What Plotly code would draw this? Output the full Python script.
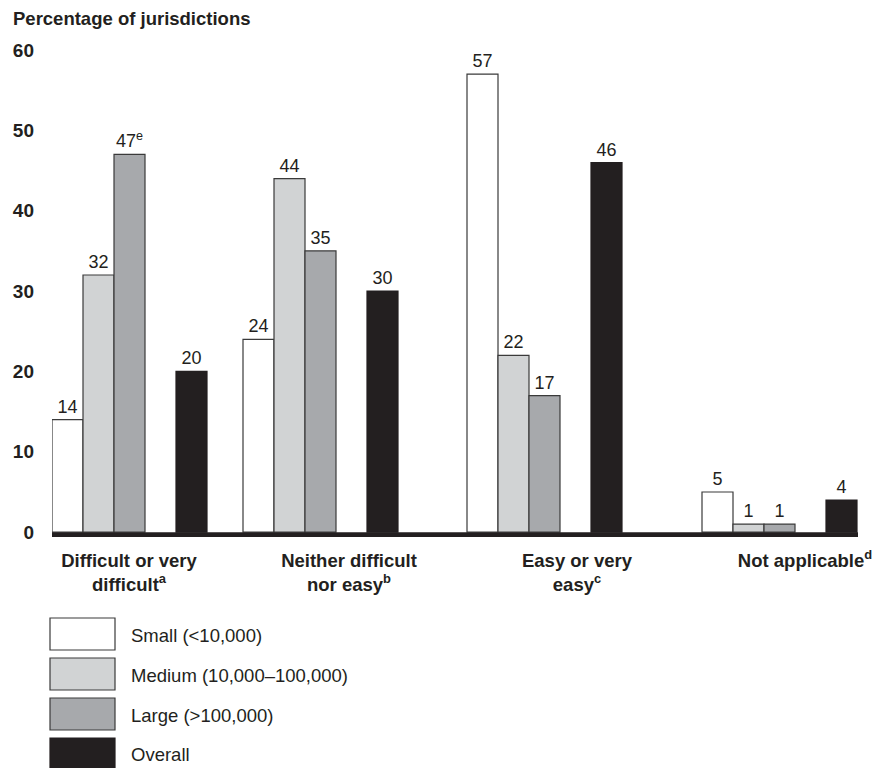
import plotly.graph_objects as go

# ---------------- data ----------------
category_labels = [
    "Difficult or very<br>difficult<sup>a</sup>",
    "Neither difficult<br>nor easy<sup>b</sup>",
    "Easy or very<br>easy<sup>c</sup>",
    "Not applicable<sup>d</sup>",
]
series_names = ["Small (<10,000)", "Medium (10,000–100,000)", "Large (>100,000)", "Overall"]
small = [14, 24, 57, 5]
medium = [32, 44, 22, 1]
large = [47, 35, 17, 1]
overall = [20, 30, 46, 4]
large_notes = ["e", "", "", ""]
y_ticks = [0, 10, 20, 30, 40, 50, 60]

# ---------------- layout / style ----------------
# page body has an 8px margin, so the figure is drawn 8px smaller and offset
OFF = 8
W, H = 886 - OFF, 768 - OFF
PL, PR, PT, PB = 52, 858, 50, 537          # plot area in page pixels
group_centers = [129.5, 320.5, 544.5, 779.5]  # x-axis units (== page pixels)
label_centers = [129, 349, 577, 805]
slot_offsets = [-77.5, -46.5, -15.5, 46.5]
bar_width = 31
fills = ["#ffffff", "#d1d3d4", "#a7a9ac", "#231f20"]
outline = "#3a3a3a"
ink = "#231f20"
FONT = "Liberation Sans, Arial, Helvetica, sans-serif"

values = [small, medium, large, overall]

def texts(vals, notes=None):
    out = []
    for i, v in enumerate(vals):
        t = str(v)
        if notes and notes[i]:
            t += "<sup>" + notes[i] + "</sup>"
        out.append(t)
    return out

fig = go.Figure()
for k, (name, vals) in enumerate(zip(series_names, values)):
    fig.add_trace(go.Bar(
        x=group_centers, y=vals, name=name,
        offset=slot_offsets[k], width=bar_width,
        marker=dict(color=fills[k], line=dict(color=outline if k < 3 else ink, width=1.2)),
        text=texts(vals, large_notes if k == 2 else None),
        textposition="outside", constraintext="none", cliponaxis=False,
        textfont=dict(family=FONT, size=18, color=ink),
        showlegend=False, hoverinfo="skip",
    ))

y_lo = -0.6
fig.update_layout(
    width=W, height=H, barmode="overlay",
    margin=dict(l=PL - OFF, r=(W + OFF) - PR, t=PT - OFF, b=(H + OFF) - PB, pad=0,
                autoexpand=False),
    paper_bgcolor="white", plot_bgcolor="white",
    font=dict(family=FONT, color=ink),
    title=dict(text="Percentage of jurisdictions", xref="container", yref="container",
               x=(13 - OFF) / W, xanchor="left", y=1 - (19 - OFF) / H, yanchor="middle",
               font=dict(family=FONT, size=18.5, color=ink, weight=700)),
    xaxis=dict(range=[PL, PR], showgrid=False, zeroline=False, showline=False,
               automargin=False,
               tickmode="array", tickvals=label_centers, ticktext=category_labels,
               ticks="", ticklabelstandoff=10,
               tickfont=dict(family=FONT, size=18.5, color=ink, weight=700)),
    yaxis=dict(range=[y_lo, 60], showgrid=False, zeroline=False, showline=False,
               automargin=False,
               tickmode="array", tickvals=y_ticks, ticks="", ticklabelstandoff=17,
               tickfont=dict(family=FONT, size=19, color=ink, weight=700)),
)

# thick baseline
fig.add_shape(type="rect", xref="x", yref="y", x0=PL, x1=PR, y0=y_lo, y1=0,
              fillcolor=ink, line=dict(width=0), layer="above")

# custom legend (large swatches)
def px_x(X):
    return (X - PL) / (PR - PL)

def px_y(Y):
    return (PB - Y) / (PB - PT)

leg_top, leg_step, box_h = 618, 40, 32
for k, name in enumerate(series_names):
    top = leg_top + k * leg_step
    fig.add_shape(type="rect", xref="paper", yref="paper",
                  x0=px_x(50), x1=px_x(115), y0=px_y(top + box_h), y1=px_y(top),
                  fillcolor=fills[k], line=dict(color=outline if k < 3 else ink, width=1.2))
    fig.add_annotation(xref="paper", yref="paper", x=px_x(129), y=px_y(top + box_h / 2 + 1),
                       xanchor="left", yanchor="middle", text=name, showarrow=False,
                       font=dict(family=FONT, size=18.5, color=ink))

fig.write_html("out.html")
